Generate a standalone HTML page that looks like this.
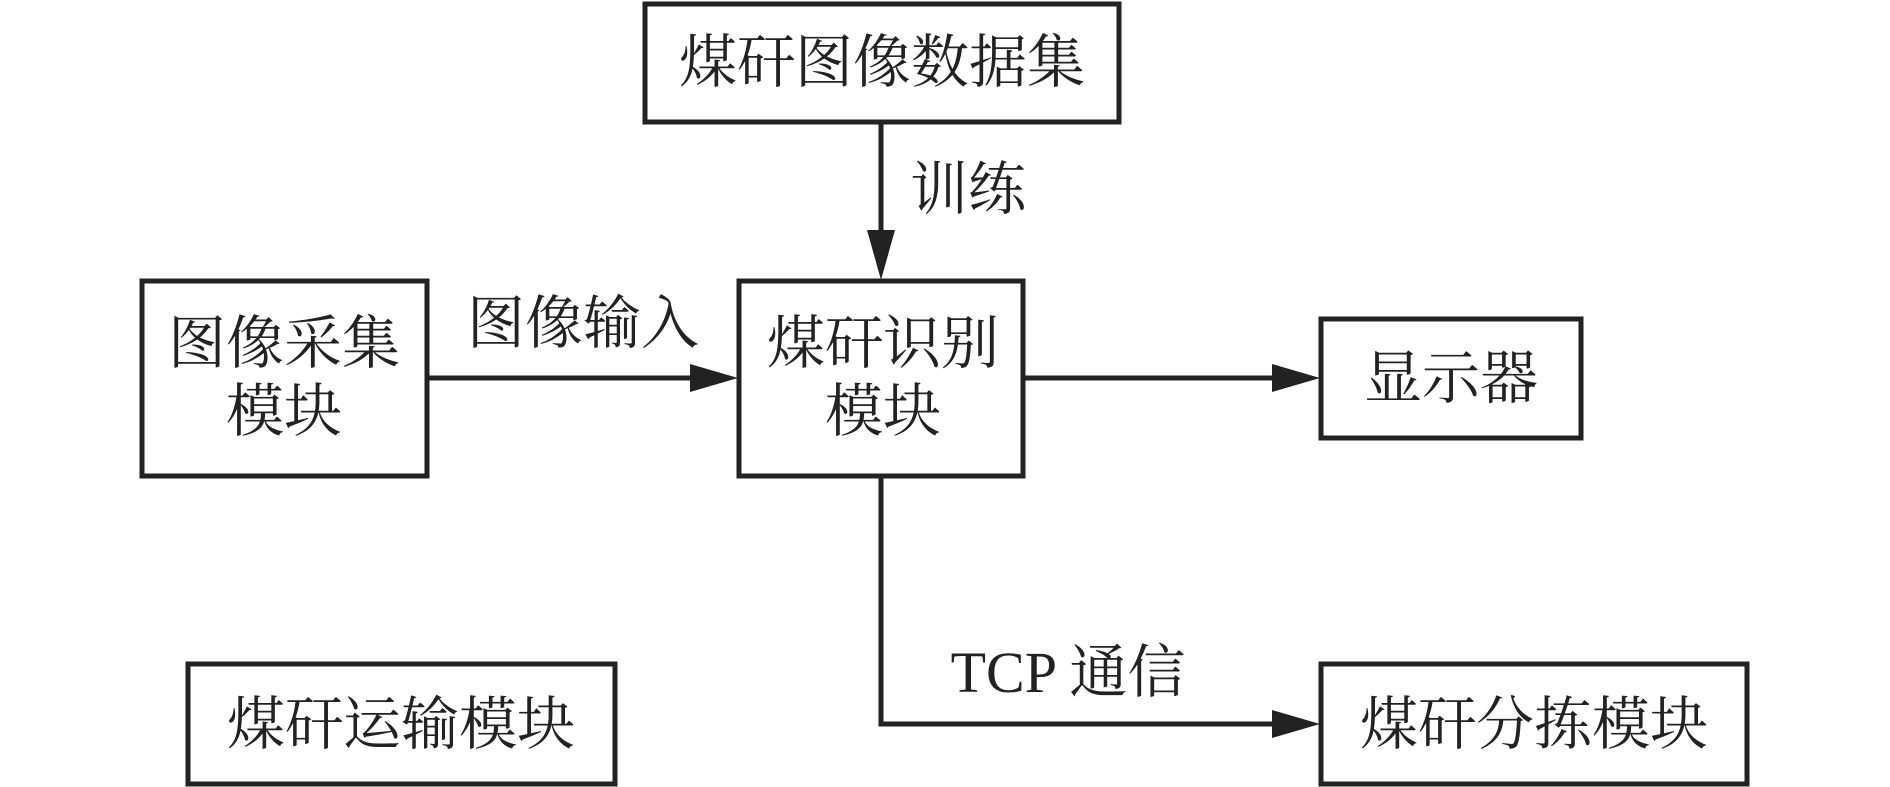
<!DOCTYPE html>
<html><head><meta charset="utf-8"><style>
html,body{margin:0;padding:0;background:#fff;width:1890px;height:787px;overflow:hidden}
text{font-family:"Liberation Serif","Noto Serif CJK SC",serif;font-size:58px;fill:#222}
</style></head><body>
<svg width="1890" height="787" viewBox="0 0 1890 787" xmlns="http://www.w3.org/2000/svg">
<g fill="none" stroke="#222" stroke-width="5">
<rect x="645" y="4" width="474" height="118"/>
<rect x="142" y="281" width="285" height="195"/>
<rect x="739" y="281" width="284" height="195"/>
<rect x="1321" y="319" width="260" height="119"/>
<rect x="188" y="664" width="427" height="120"/>
<rect x="1321" y="664" width="426" height="120"/>
<line x1="881" y1="122" x2="881" y2="250"/>
<line x1="427" y1="378" x2="690" y2="378"/>
<line x1="1023" y1="378" x2="1272" y2="378"/>
<polyline points="881,476 881,724 1272,724"/>
</g>
<g fill="#222">
<path d="M867,230 L895,230 L881,280 Z"/>
<path d="M690,364 L690,392 L738,378 Z"/>
<path d="M1272,364 L1272,392 L1320,378 Z"/>
<path d="M1272,710 L1272,738 L1320,724 Z"/>
</g>
<g text-anchor="middle">
<text x="882" y="82">煤矸图像数据集</text>
<text x="284" y="363">图像采集</text>
<text x="284" y="431">模块</text>
<text x="883" y="363">煤矸识别</text>
<text x="883" y="431">模块</text>
<text x="1451" y="398">显示器</text>
<text x="401" y="744">煤矸运输模块</text>
<text x="1534" y="744">煤矸分拣模块</text>
<text x="968" y="209">训练</text>
<text x="583" y="343">图像输入</text>
<text x="1068" y="692">TCP 通信</text>
</g>
</svg>
</body></html>
